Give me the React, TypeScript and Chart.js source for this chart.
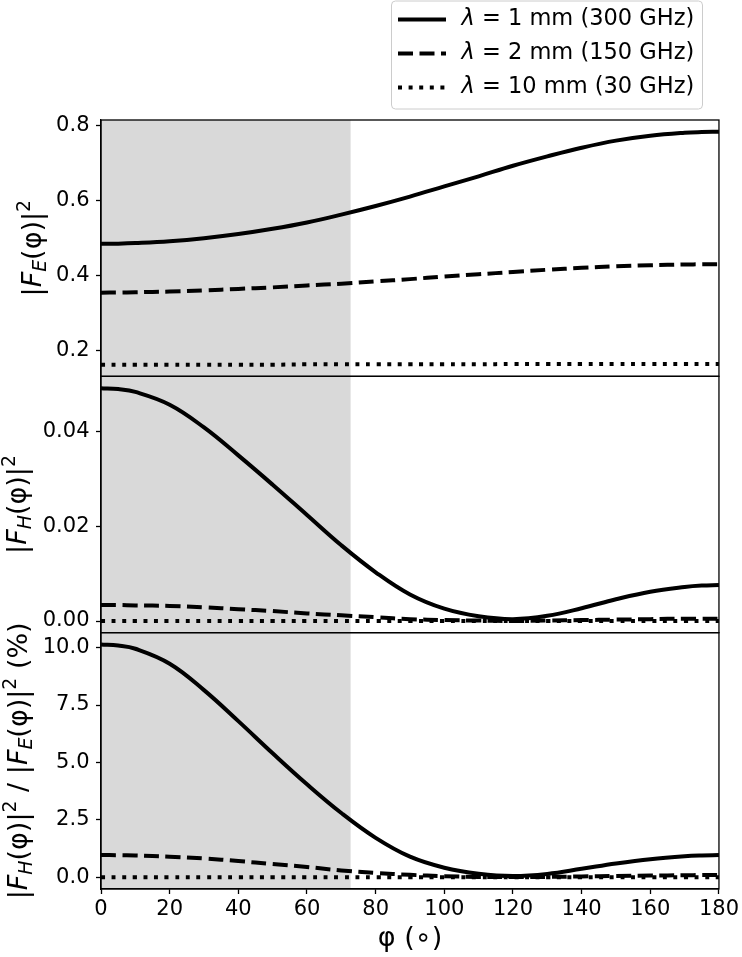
import { useEffect, useRef } from 'react';
import { Chart, registerables } from 'chart.js';

Chart.register(...registerables);

// angle φ in degrees
const phi = [0, 5, 10, 20, 30, 40, 50, 60, 70, 80, 90, 100, 110, 120, 130, 140, 150, 160, 170, 175, 180];

// |F_E(φ)|²
const fE1mm = [0.485, 0.4855, 0.487, 0.492, 0.5, 0.511, 0.525, 0.542, 0.563, 0.586, 0.611, 0.638, 0.665, 0.693, 0.718, 0.741, 0.76, 0.773, 0.781, 0.783, 0.784];
const fE2mm = [0.355, 0.3553, 0.356, 0.358, 0.361, 0.365, 0.369, 0.374, 0.379, 0.385, 0.391, 0.398, 0.404, 0.41, 0.416, 0.421, 0.425, 0.428, 0.43, 0.4305, 0.431];
const fE10mm = [0.163, 0.163, 0.163, 0.163, 0.163, 0.163, 0.163, 0.164, 0.164, 0.164, 0.164, 0.164, 0.164, 0.165, 0.165, 0.165, 0.165, 0.165, 0.165, 0.165, 0.165];

// |F_H(φ)|²
const fH1mm = [0.0492, 0.049, 0.0484, 0.0457, 0.0409, 0.035, 0.0288, 0.0224, 0.016, 0.0103, 0.0056, 0.0026, 0.001, 0.0004, 0.0011, 0.0027, 0.0046, 0.0062, 0.0072, 0.0075, 0.0076];
const fH2mm = [0.0034, 0.00338, 0.0033, 0.0032, 0.0029, 0.0025, 0.0021, 0.0016, 0.0012, 0.0008, 0.0004, 0.0002, 0.0001, 0.0, 0.0001, 0.0002, 0.0003, 0.0004, 0.0005, 0.0005, 0.0005];
const fH10mm = [0.00001, 0.00001, 0.00001, 0.00001, 0.00001, 0.00001, 0.00001, 0.00001, 0.00001, 0.0, 0.0, 0.0, 0.0, 0.0, 0.0, 0.0, 0.0, 0.0, 0.0, 0.0, 0.0];

// |F_H|² / |F_E|² in %
const ratio1mm = [10.14, 10.09, 9.95, 9.3, 8.15, 6.8, 5.4, 4.05, 2.8, 1.72, 0.9, 0.42, 0.16, 0.06, 0.15, 0.37, 0.6, 0.79, 0.92, 0.955, 0.97];
const ratio2mm = [0.97, 0.965, 0.95, 0.9, 0.82, 0.71, 0.58, 0.45, 0.3, 0.19, 0.11, 0.05, 0.02, 0.01, 0.02, 0.04, 0.06, 0.08, 0.09, 0.1, 0.1];
const ratio10mm = [0.006, 0.006, 0.006, 0.006, 0.006, 0.005, 0.005, 0.005, 0.004, 0.003, 0.002, 0.001, 0.0, 0.0, 0.0, 0.0, 0.0, 0.0, 0.0, 0.0, 0.0];

const seriesLabels = ['λ = 1 mm (300 GHz)', 'λ = 2 mm (150 GHz)', 'λ = 10 mm (30 GHz)'];
const seriesDash = [[], [15, 6.5], [4, 6.6]];

const xTicks = [0, 20, 40, 60, 80, 100, 120, 140, 160, 180];
const eTicks = [0.2, 0.4, 0.6, 0.8];
const hTicks = [0, 0.02, 0.04];
const rTicks = [0, 2.5, 5, 7.5, 10];

// shaded φ range
const shadeStart = 0;
const shadeEnd = 72.7;

const FONT = "'DejaVu Sans', sans-serif";

type Run = [string, 'n' | 'i' | 'sub' | 'sup'];
const titleE: Run[] = [['|', 'n'], ['F', 'i'], ['E', 'sub'], ['(φ)|', 'n'], ['2', 'sup']];
const titleH: Run[] = [['|', 'n'], ['F', 'i'], ['H', 'sub'], ['(φ)|', 'n'], ['2', 'sup']];
const titleR: Run[] = [...titleH, [' / ', 'n'], ...titleE, [' (%)', 'n']];

function drawRuns(ctx: CanvasRenderingContext2D, runs: Run[], baseX: number, cy: number, size: number) {
  const fontFor = (k: string) => {
    const s = k === 'sub' || k === 'sup' ? size * 0.7 : size;
    const st = k === 'i' || k === 'sub' ? 'italic ' : '';
    return `${st}${s}px ${FONT}`;
  };
  const widths = runs.map(([t, k]) => {
    ctx.font = fontFor(k);
    return ctx.measureText(t).width;
  });
  const total = widths.reduce((a, b) => a + b, 0);
  ctx.save();
  ctx.translate(baseX, cy);
  ctx.rotate(-Math.PI / 2);
  ctx.fillStyle = '#000';
  ctx.textBaseline = 'alphabetic';
  let x = -total / 2;
  runs.forEach(([t, k], i) => {
    ctx.font = fontFor(k);
    const dy = k === 'sub' ? size * 0.2 : k === 'sup' ? -size * 0.42 : 0;
    ctx.fillText(t, x, dy);
    x += widths[i];
  });
  ctx.restore();
}

const shadePlugin = {
  id: 'shade',
  beforeDraw(chart: any) {
    const { ctx, chartArea, scales } = chart;
    const x0 = scales.x.getPixelForValue(shadeStart);
    const x1 = scales.x.getPixelForValue(shadeEnd);
    ctx.save();
    ctx.fillStyle = '#d9d9d9';
    ctx.fillRect(x0, chartArea.top, x1 - x0, chartArea.bottom - chartArea.top);
    ctx.restore();
  },
};

const panelPlugin = {
  id: 'panels',
  afterDraw(chart: any) {
    const { ctx, chartArea, scales } = chart;
    ctx.save();
    ctx.strokeStyle = '#000';
    ctx.lineWidth = 1.3;
    ['yE', 'yH', 'yR'].forEach((id) => {
      const s = scales[id];
      ctx.strokeRect(chartArea.left, s.top, chartArea.right - chartArea.left, s.bottom - s.top);
    });
    ctx.restore();

    drawRuns(ctx, titleE, 41, (scales.yE.top + scales.yE.bottom) / 2, 27);
    drawRuns(ctx, titleH, 26, (scales.yH.top + scales.yH.bottom) / 2, 27);
    drawRuns(ctx, titleR, 27, (scales.yR.top + scales.yR.bottom) / 2, 27);
  },
};

const legendPlugin = {
  id: 'boxLegend',
  afterDraw(chart: any) {
    const ctx = chart.ctx as CanvasRenderingContext2D;
    ctx.save();
    ctx.beginPath();
    ctx.roundRect(391.5, 1, 311, 108, 4);
    ctx.fillStyle = 'rgba(255,255,255,0.8)';
    ctx.fill();
    ctx.strokeStyle = '#cccccc';
    ctx.lineWidth = 1;
    ctx.stroke();
    chart.data.datasets.slice(0, 3).forEach((ds: any, i: number) => {
      const y = 19.5 + i * 34;
      ctx.setLineDash(ds.borderDash || []);
      ctx.lineWidth = 4;
      ctx.strokeStyle = '#000';
      ctx.beginPath();
      ctx.moveTo(398, y);
      ctx.lineTo(446, y);
      ctx.stroke();
      ctx.setLineDash([]);
      ctx.fillStyle = '#000';
      ctx.textBaseline = 'middle';
      const label: string = ds.label;
      ctx.font = `italic 22.5px ${FONT}`;
      ctx.fillText(label[0], 461.5, y);
      const w = ctx.measureText(label[0]).width;
      ctx.font = `22.5px ${FONT}`;
      ctx.fillText(label.slice(1), 461.5 + w, y);
    });
    ctx.restore();
  },
};

function yScale(min: number, max: number, ticks: number[], digits: number) {
  return {
    type: 'linear' as const,
    position: 'left' as const,
    stack: 'panels',
    stackWeight: 1,
    min,
    max,
    afterBuildTicks: (s: any) => {
      s.ticks = ticks.map((v) => ({ value: v }));
    },
    afterFit: (s: any) => {
      s.width = 101;
    },
    ticks: {
      color: '#000',
      font: { family: FONT, size: 21 },
      padding: 6.5,
      callback: (v: any) => Number(v).toFixed(digits),
    },
    grid: { drawOnChartArea: false, tickLength: 5, tickColor: '#000', tickWidth: 1.3 },
    border: { display: true, color: '#000', width: 1.3 },
  };
}

function line(label: string, values: number[], axis: string, dash: number[]) {
  return {
    label,
    data: phi.map((p, i) => ({ x: p, y: values[i] })),
    yAxisID: axis,
    borderColor: '#000',
    borderWidth: 4,
    borderDash: dash,
    pointRadius: 0,
    tension: 0.4,
    fill: false,
  };
}

export default function App() {
  const canvasRef = useRef<HTMLCanvasElement>(null);

  useEffect(() => {
    if (!canvasRef.current) return;
    const chart = new Chart(canvasRef.current, {
      type: 'line',
      data: {
        datasets: [
          line(seriesLabels[0], fE1mm, 'yE', seriesDash[0]),
          line(seriesLabels[1], fE2mm, 'yE', seriesDash[1]),
          line(seriesLabels[2], fE10mm, 'yE', seriesDash[2]),
          line(seriesLabels[0], fH1mm, 'yH', seriesDash[0]),
          line(seriesLabels[1], fH2mm, 'yH', seriesDash[1]),
          line(seriesLabels[2], fH10mm, 'yH', seriesDash[2]),
          line(seriesLabels[0], ratio1mm, 'yR', seriesDash[0]),
          line(seriesLabels[1], ratio2mm, 'yR', seriesDash[1]),
          line(seriesLabels[2], ratio10mm, 'yR', seriesDash[2]),
        ],
      },
      options: {
        animation: false,
        responsive: true,
        maintainAspectRatio: false,
        layout: { padding: { top: 120, right: 21, bottom: 0, left: 0 } },
        plugins: {
          legend: { display: false },
          tooltip: { enabled: false },
        },
        scales: {
          x: {
            type: 'linear',
            min: 0,
            max: 180,
            afterBuildTicks: (s: any) => {
              s.ticks = xTicks.map((v) => ({ value: v }));
            },
            afterFit: (s: any) => {
              s.height = 68;
            },
            ticks: { color: '#000', font: { family: FONT, size: 21 }, padding: 3 },
            grid: { drawOnChartArea: false, tickLength: 5, tickColor: '#000', tickWidth: 1.3 },
            border: { display: true, color: '#000', width: 1.3 },
            title: {
              display: true,
              text: 'φ (∘)',
              color: '#000',
              font: { family: FONT, size: 27 },
              padding: { top: 0, bottom: 2 },
            },
          },
          // stacked left axes are laid out bottom-up in declaration order
          yR: yScale(-0.507, 10.65, rTicks, 1),
          yH: yScale(-0.00246, 0.0517, hTicks, 2),
          yE: yScale(0.132, 0.815, eTicks, 1),
        },
      },
      plugins: [shadePlugin, panelPlugin, legendPlugin],
    });
    return () => chart.destroy();
  }, []);

  return (
    <div style={{ position: 'absolute', left: 0, top: 0, width: 742, height: 957 }}>
      <canvas ref={canvasRef} />
    </div>
  );
}
